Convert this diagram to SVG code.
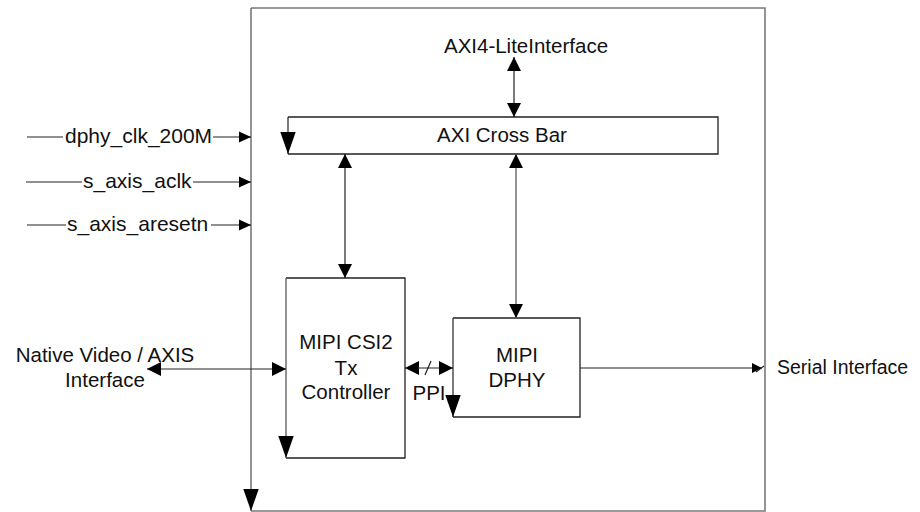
<svg xmlns="http://www.w3.org/2000/svg" width="920" height="512" viewBox="0 0 920 512">
<style>
text{font-family:"Liberation Sans",Arial,Helvetica,sans-serif;font-size:20.5px;fill:#111}
.c{text-anchor:middle}
.in{font-size:21px}
.box{fill:#fff;stroke:#222;stroke-width:1.3}
.frame{fill:none;stroke:#7a7a7a;stroke-width:1.6}
.ln{fill:none;stroke:#222;stroke-width:1.2}
.gl{fill:none;stroke:#666;stroke-width:1.4}
</style>
<defs>
<marker id="a" markerUnits="userSpaceOnUse" markerWidth="14" markerHeight="14" viewBox="0 0 12 12" refX="12" refY="6" orient="auto-start-reverse"><path d="M0,0 L12,6 L0,12 Z" fill="#000"/></marker>
<marker id="s" markerUnits="userSpaceOnUse" markerWidth="12" markerHeight="12" viewBox="0 0 11 10" refX="11" refY="5" orient="auto"><path d="M0,0 L11,5 L0,10 Z" fill="#000"/></marker>
<marker id="b" markerUnits="userSpaceOnUse" markerWidth="22" markerHeight="16" viewBox="0 0 20 14" refX="20" refY="7" orient="auto"><path d="M0,0 L20,7 L0,14 Z" fill="#000"/></marker>
<marker id="t" markerUnits="userSpaceOnUse" markerWidth="10" markerHeight="10" viewBox="0 0 8 8" refX="8" refY="4" orient="auto"><path d="M0,0 L8,4 L0,8 Z" fill="#000"/></marker>
</defs>

<g id="ip-core">
<path class="frame" d="M251,8 H765 V511 H251"/>
<line class="gl" x1="251" y1="8" x2="251" y2="511" marker-end="url(#b)"/>
</g>

<g id="axi-crossbar">
<path class="box" d="M288,117 H718 V154 H288"/>
<line class="ln" x1="288" y1="117" x2="288" y2="154" marker-end="url(#b)"/>
<text class="c" x="502" y="142">AXI Cross Bar</text>
</g>

<g id="csi2-controller">
<path class="box" d="M286,278 H405 V458 H286"/>
<line class="gl" x1="286" y1="278" x2="286" y2="458" marker-end="url(#b)"/>
<text class="c" x="346" y="349">MIPI CSI2</text>
<text class="c" x="346" y="375">Tx</text>
<text class="c" x="346" y="399">Controller</text>
</g>

<g id="dphy">
<path class="box" d="M453,318 H580 V417 H453"/>
<line class="ln" x1="453" y1="318" x2="453" y2="417" marker-end="url(#b)"/>
<text class="c" x="517" y="362">MIPI</text>
<text class="c" x="517" y="387">DPHY</text>
</g>

<g id="labels">
<text class="c" x="526" y="53">AXI4-LiteInterface</text>
<text class="c" x="105" y="362">Native Video / AXIS</text>
<text class="c" x="105" y="387">Interface</text>
<text class="c" x="429" y="400">PPI</text>
<text x="777" y="374" style="font-size:19.5px">Serial Interface</text>
<text class="in" x="65" y="143">dphy_clk_200M</text>
<text class="in" x="83" y="188">s_axis_aclk</text>
<text class="in" x="67" y="231">s_axis_aresetn</text>
</g>

<g id="connectors">
<line class="ln" x1="27" y1="137" x2="63" y2="137"/>
<line class="ln" x1="213" y1="137" x2="251" y2="137" marker-end="url(#s)"/>
<line class="ln" x1="26" y1="182" x2="82" y2="182"/>
<line class="ln" x1="193" y1="182" x2="251" y2="182" marker-end="url(#s)"/>
<line class="ln" x1="27" y1="225" x2="66" y2="225"/>
<line class="ln" x1="211" y1="225" x2="251" y2="225" marker-end="url(#s)"/>
<line class="ln" x1="514" y1="57" x2="514" y2="117" marker-start="url(#a)" marker-end="url(#a)"/>
<line class="ln" x1="345" y1="154" x2="345" y2="278" marker-start="url(#a)" marker-end="url(#a)"/>
<line class="gl" x1="516" y1="154" x2="516" y2="318" marker-start="url(#a)" marker-end="url(#a)"/>
<line class="ln" x1="147" y1="369" x2="286" y2="369" marker-start="url(#a)" marker-end="url(#a)"/>
<line class="ln" x1="405" y1="368" x2="453" y2="368" marker-start="url(#a)" marker-end="url(#a)"/>
<line class="ln" x1="425" y1="375" x2="431" y2="361"/>
<line class="ln" x1="580" y1="368" x2="762" y2="368" marker-end="url(#t)"/>
<line class="ln" x1="756" y1="372" x2="764" y2="366"/>
</g>
</svg>
